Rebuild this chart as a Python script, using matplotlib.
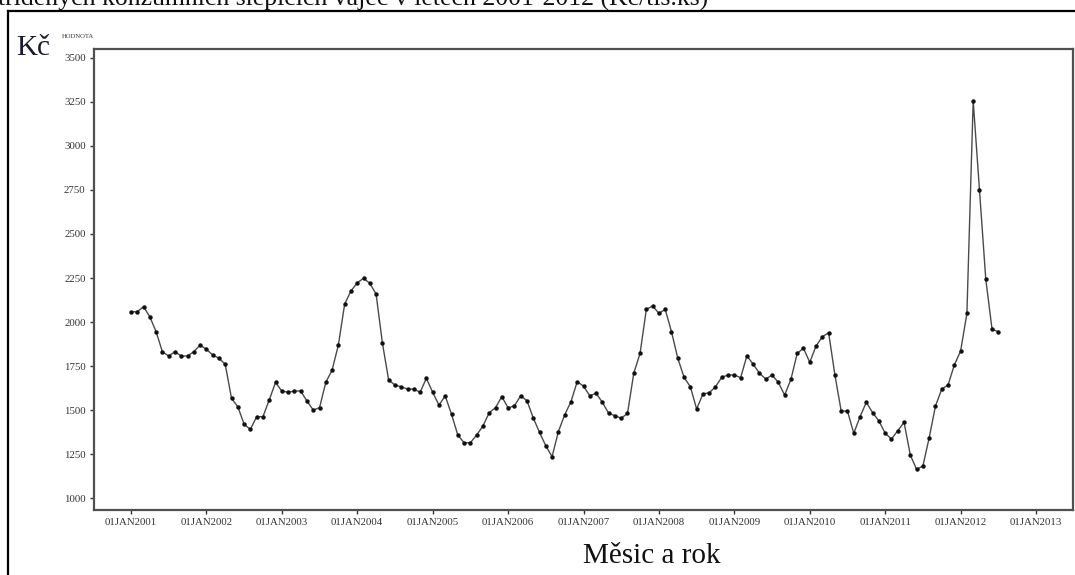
import matplotlib
matplotlib.use("Agg")
import matplotlib.pyplot as plt
from matplotlib.lines import Line2D
import numpy as np

# Monthly prices, Jan 2001 .. Jul 2012 (Kč)
price_2001 = [2058, 2058, 2087, 2030, 1945, 1831, 1807, 1831, 1807, 1807, 1831, 1869]
price_2002 = [1845, 1813, 1794, 1760, 1566, 1519, 1419, 1390, 1462, 1462, 1557, 1657]
price_2003 = [1608, 1601, 1608, 1608, 1551, 1500, 1513, 1657, 1727, 1869, 2102, 2176]
price_2004 = [2223, 2248, 2220, 2159, 1882, 1670, 1642, 1632, 1619, 1619, 1601, 1680]
price_2005 = [1601, 1528, 1580, 1476, 1358, 1314, 1314, 1358, 1409, 1485, 1513, 1576]
price_2006 = [1513, 1523, 1581, 1553, 1456, 1373, 1297, 1235, 1377, 1472, 1547, 1661]
price_2007 = [1636, 1581, 1595, 1544, 1481, 1468, 1453, 1481, 1709, 1822, 2072, 2091]
price_2008 = [2049, 2072, 1945, 1794, 1686, 1632, 1506, 1591, 1598, 1632, 1686, 1699]
price_2009 = [1699, 1684, 1808, 1760, 1709, 1676, 1699, 1657, 1585, 1674, 1822, 1851]
price_2010 = [1771, 1864, 1916, 1939, 1699, 1494, 1494, 1368, 1462, 1544, 1485, 1438]
price_2011 = [1368, 1335, 1382, 1430, 1244, 1163, 1182, 1343, 1523, 1619, 1642, 1756]
price_2012 = [1835, 2049, 3257, 2750, 2244, 1959, 1945]

years = list(range(2001, 2014))
tick_labels = [f"01JAN{y}" for y in years]
y_ticks = [1000, 1250, 1500, 1750, 2000, 2250, 2500, 2750, 3000, 3250, 3500]

prices = np.array(price_2001 + price_2002 + price_2003 + price_2004 + price_2005 +
                  price_2006 + price_2007 + price_2008 + price_2009 + price_2010 +
                  price_2011 + price_2012, dtype=float)
t = 2001 + np.arange(len(prices)) / 12.0

W, H = 1075, 575
fig = plt.figure(figsize=(W / 100, H / 100), dpi=100)
fig.patch.set_facecolor("white")

def fx(px):
    return px / W

def fy(py):
    return 1 - py / H

ax = fig.add_axes([fx(94), fy(510), fx(1073) - fx(94), fy(49) - fy(510)])

ax.plot(t, prices, color="#4a4a4a", lw=1.0, marker="o", markersize=2.2,
        markerfacecolor="#111111", markeredgecolor="#111111", zorder=3)

ax.set_xlim(2000.51, 2013.49)
ax.set_ylim(932, 3551)
ax.set_xticks(years)
ax.set_xticklabels(tick_labels)
ax.set_yticks(y_ticks)
ax.set_yticklabels([str(v) for v in y_ticks])

for sp in ax.spines.values():
    sp.set_color("#505050")
    sp.set_linewidth(1.6)

ax.tick_params(axis="both", direction="out", length=3, width=1.0, color="#333333",
               labelsize=7.8, labelcolor="#333333", pad=3)
for lab in ax.get_xticklabels() + ax.get_yticklabels():
    lab.set_fontfamily("Liberation Serif")

# Axis captions
fig.text(fx(62), fy(36), "HODNOTA", fontsize=4.8, family="Liberation Serif",
         color="#333333", ha="left", va="center")
fig.text(fx(16), fy(48), "Kč", fontsize=21, family="Liberation Serif",
         color="#1a1a2e", ha="left", va="center")
fig.text(fx(652), fy(556), "Měsic a rok", fontsize=21, family="Liberation Serif",
         color="#111111", ha="center", va="center")

# Caption line above the frame
fig.text(fx(-2), fy(6), "tříděných konzumních slepičích vajec v letech 2001-2012 (Kč/tis.ks)",
         fontsize=18.5, family="Liberation Serif", color="#111111",
         ha="left", va="baseline")

# Outer frame
fig.add_artist(Line2D([fx(8), fx(1080)], [fy(11), fy(11)], color="black", lw=1.6,
                      transform=fig.transFigure))
fig.add_artist(Line2D([fx(8), fx(8)], [fy(11), fy(580)], color="black", lw=1.6,
                      transform=fig.transFigure))

fig.savefig("out.png", dpi=100, facecolor="white")
